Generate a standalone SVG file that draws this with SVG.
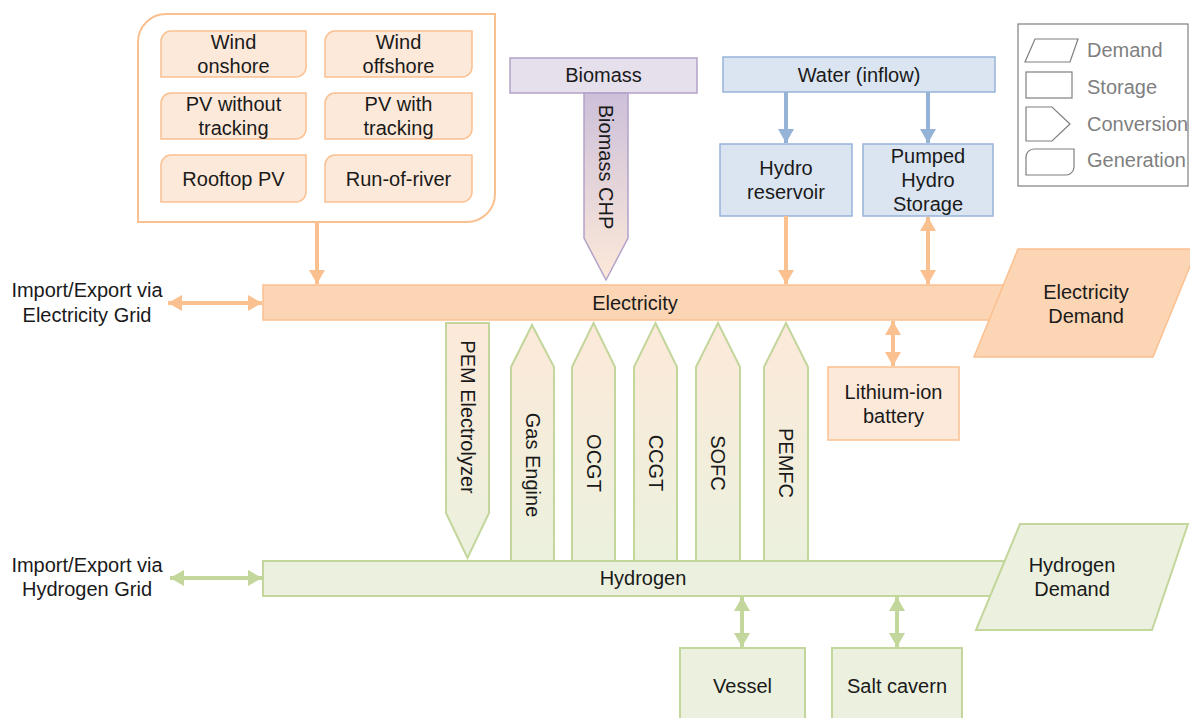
<svg xmlns="http://www.w3.org/2000/svg" width="1190" height="718" viewBox="0 0 1190 718">
<defs>
<linearGradient id="gConv" x1="0" y1="0" x2="0" y2="1"><stop offset="0" stop-color="#fde9d9"/><stop offset="1" stop-color="#ebf1de"/></linearGradient>
<linearGradient id="gBio" x1="0" y1="0" x2="0" y2="1"><stop offset="0" stop-color="#ccc0da"/><stop offset="1" stop-color="#fde9d9"/></linearGradient>
<marker id="mO" markerUnits="userSpaceOnUse" markerWidth="14" markerHeight="16" refX="14" refY="8" orient="auto-start-reverse" viewBox="0 0 14 16"><path d="M0,0 L14,8 L0,16 z" fill="#fac090"/></marker>
<marker id="mB" markerUnits="userSpaceOnUse" markerWidth="14" markerHeight="16" refX="14" refY="8" orient="auto-start-reverse" viewBox="0 0 14 16"><path d="M0,0 L14,8 L0,16 z" fill="#95b3d7"/></marker>
<marker id="mG" markerUnits="userSpaceOnUse" markerWidth="14" markerHeight="16" refX="14" refY="8" orient="auto-start-reverse" viewBox="0 0 14 16"><path d="M0,0 L14,8 L0,16 z" fill="#c3d69b"/></marker>
</defs>
<style>
text{font-family:"Liberation Sans",Arial,sans-serif;font-size:20px;fill:#1a1a1a;text-anchor:middle}
.gen{fill:#fde9d9;stroke:#fac090;stroke-width:1.5}
.ele{fill:#fcd5b4;stroke:#fac090;stroke-width:1.5}
.h2{fill:#ebf1de;stroke:#c3d69b;stroke-width:2}
.conv{fill:url(#gConv);stroke:#c3d69b;stroke-width:2}
.blu{fill:#dbe5f1;stroke:#95b3d7;stroke-width:1.5}
.pur{fill:#e5e0ec;stroke:#b3a2c7;stroke-width:1.5}
.lg{fill:none;stroke:#7f7f7f;stroke-width:1.2}
.lgt{fill:#7f7f7f;text-anchor:start}
.ao{stroke:#fac090;stroke-width:4;fill:none}
.ab{stroke:#95b3d7;stroke-width:4;fill:none}
.ag{stroke:#c3d69b;stroke-width:4;fill:none}
.v{dominant-baseline:central}
</style>

<g id="legend">
<rect x="1018" y="24" width="170" height="162" class="lg"/>
<polygon points="1035,39 1078,39 1070,62 1025,62" class="lg"/>
<text x="1087" y="57" class="lgt">Demand</text>
<rect x="1026" y="72" width="46" height="26" class="lg"/>
<text x="1087" y="94" class="lgt">Storage</text>
<polygon points="1026,107 1052,107 1070,124 1052,141 1026,141" class="lg"/>
<text x="1087" y="131" class="lgt">Conversion</text>
<path d="M1034,149 H1074 V167 A8,8 0 0 1 1066,175 H1026 V157 A8,8 0 0 1 1034,149 Z" class="lg"/>
<text x="1087" y="167" class="lgt">Generation</text>
</g>

<g id="generation">
<path d="M166,14 H495 V194 A28,28 0 0 1 467,222 H138 V42 A28,28 0 0 1 166,14 Z" fill="#ffffff" stroke="#fac090" stroke-width="2"/>
<g id="wind-onshore"><path d="M171,31 H306 V67 A10,10 0 0 1 296,77 H161 V41 A10,10 0 0 1 171,31 Z" class="gen"/><text x="233.5" y="49">Wind</text><text x="233.5" y="73">onshore</text></g>
<g id="wind-offshore"><path d="M335,31 H472 V67 A10,10 0 0 1 462,77 H325 V41 A10,10 0 0 1 335,31 Z" class="gen"/><text x="398.5" y="49">Wind</text><text x="398.5" y="73">offshore</text></g>
<g id="pv-without"><path d="M171,93 H306 V129 A10,10 0 0 1 296,139 H161 V103 A10,10 0 0 1 171,93 Z" class="gen"/><text x="233.5" y="111">PV without</text><text x="233.5" y="135">tracking</text></g>
<g id="pv-with"><path d="M335,93 H472 V129 A10,10 0 0 1 462,139 H325 V103 A10,10 0 0 1 335,93 Z" class="gen"/><text x="398.5" y="111">PV with</text><text x="398.5" y="135">tracking</text></g>
<g id="rooftop-pv"><path d="M171,155 H306 V192 A10,10 0 0 1 296,202 H161 V165 A10,10 0 0 1 171,155 Z" class="gen"/><text x="233.5" y="185.5">Rooftop PV</text></g>
<g id="run-of-river"><path d="M335,155 H472 V192 A10,10 0 0 1 462,202 H325 V165 A10,10 0 0 1 335,155 Z" class="gen"/><text x="398.5" y="185.5">Run-of-river</text></g>
</g>

<g id="biomass"><rect x="510" y="58" width="187" height="35" class="pur"/><text x="603.5" y="82">Biomass</text></g>
<g id="biomass-chp"><polygon points="584,93 628,93 628,238 606,280 584,238" fill="url(#gBio)" stroke="#b3a2c7" stroke-width="1.5"/><text class="v" transform="translate(606,167) rotate(90)">Biomass CHP</text></g>

<g id="water"><rect x="723" y="57" width="272" height="35" class="blu"/><text x="859" y="81.5">Water (inflow)</text></g>
<g id="hydro-reservoir"><rect x="720" y="144" width="132" height="72" class="blu"/><text x="786" y="175">Hydro</text><text x="786" y="199">reservoir</text></g>
<g id="pumped-hydro"><rect x="863" y="144" width="130" height="72" class="blu"/><text x="928" y="163">Pumped</text><text x="928" y="187">Hydro</text><text x="928" y="211">Storage</text></g>

<g id="electricity"><rect x="263" y="285" width="760" height="35" class="ele"/><text x="635" y="309.5">Electricity</text></g>
<g id="electricity-demand"><polygon points="1018,249 1197,249 1153,357 974,357" class="ele"/><text x="1086" y="299">Electricity</text><text x="1086" y="323">Demand</text></g>
<g id="import-export-el"><text x="87" y="297">Import/Export via</text><text x="87" y="322">Electricity Grid</text></g>

<g id="battery"><rect x="828" y="367" width="131" height="73" class="gen"/><text x="893.5" y="398.5">Lithium-ion</text><text x="893.5" y="422.5">battery</text></g>

<g id="pem-electrolyzer"><polygon points="446,323 489,323 489,513 467.5,558 446,513" class="conv"/><text class="v" transform="translate(467.5,417) rotate(90)">PEM Electrolyzer</text></g>
<g id="gas-engine"><polygon points="532,325 554,367 554,561 511,561 511,367" class="conv"/><text class="v" transform="translate(532.5,465) rotate(90)">Gas Engine</text></g>
<g id="ocgt"><polygon points="593.5,323 615,367 615,561 572,561 572,367" class="conv"/><text class="v" transform="translate(593.5,463) rotate(90)">OCGT</text></g>
<g id="ccgt"><polygon points="655.5,323 677,367 677,561 634,561 634,367" class="conv"/><text class="v" transform="translate(655.5,463) rotate(90)">CCGT</text></g>
<g id="sofc"><polygon points="718,323 740,367 740,561 696,561 696,367" class="conv"/><text class="v" transform="translate(718,463) rotate(90)">SOFC</text></g>
<g id="pemfc"><polygon points="786,323 808,367 808,561 764,561 764,367" class="conv"/><text class="v" transform="translate(786,463) rotate(90)">PEMFC</text></g>

<g id="hydrogen"><rect x="263" y="561" width="760" height="35" class="h2"/><text x="643" y="585">Hydrogen</text></g>
<g id="hydrogen-demand"><polygon points="1020,524 1188,524 1152,630 976,630" class="h2"/><text x="1072" y="572">Hydrogen</text><text x="1072" y="596">Demand</text></g>
<g id="import-export-h2"><text x="87" y="572">Import/Export via</text><text x="87" y="596">Hydrogen Grid</text></g>

<g id="vessel"><rect x="680" y="648" width="125" height="80" class="h2"/><text x="742.5" y="693">Vessel</text></g>
<g id="salt-cavern"><rect x="832" y="648" width="130" height="80" class="h2"/><text x="897" y="693">Salt cavern</text></g>

<g id="connectors">
<line x1="317" y1="222" x2="317" y2="284" class="ao" marker-end="url(#mO)"/>
<line x1="786" y1="92" x2="786" y2="143" class="ab" marker-end="url(#mB)"/>
<line x1="928" y1="92" x2="928" y2="143" class="ab" marker-end="url(#mB)"/>
<line x1="786" y1="216" x2="786" y2="284" class="ao" marker-end="url(#mO)"/>
<line x1="928" y1="217" x2="928" y2="284" class="ao" marker-start="url(#mO)" marker-end="url(#mO)"/>
<line x1="168" y1="303" x2="262" y2="303" class="ao" marker-start="url(#mO)" marker-end="url(#mO)"/>
<line x1="893" y1="321" x2="893" y2="366" class="ao" marker-start="url(#mO)" marker-end="url(#mO)"/>
<line x1="170" y1="578" x2="262" y2="578" class="ag" marker-start="url(#mG)" marker-end="url(#mG)"/>
<line x1="742" y1="597" x2="742" y2="647" class="ag" marker-start="url(#mG)" marker-end="url(#mG)"/>
<line x1="897" y1="597" x2="897" y2="647" class="ag" marker-start="url(#mG)" marker-end="url(#mG)"/>
</g>
</svg>
